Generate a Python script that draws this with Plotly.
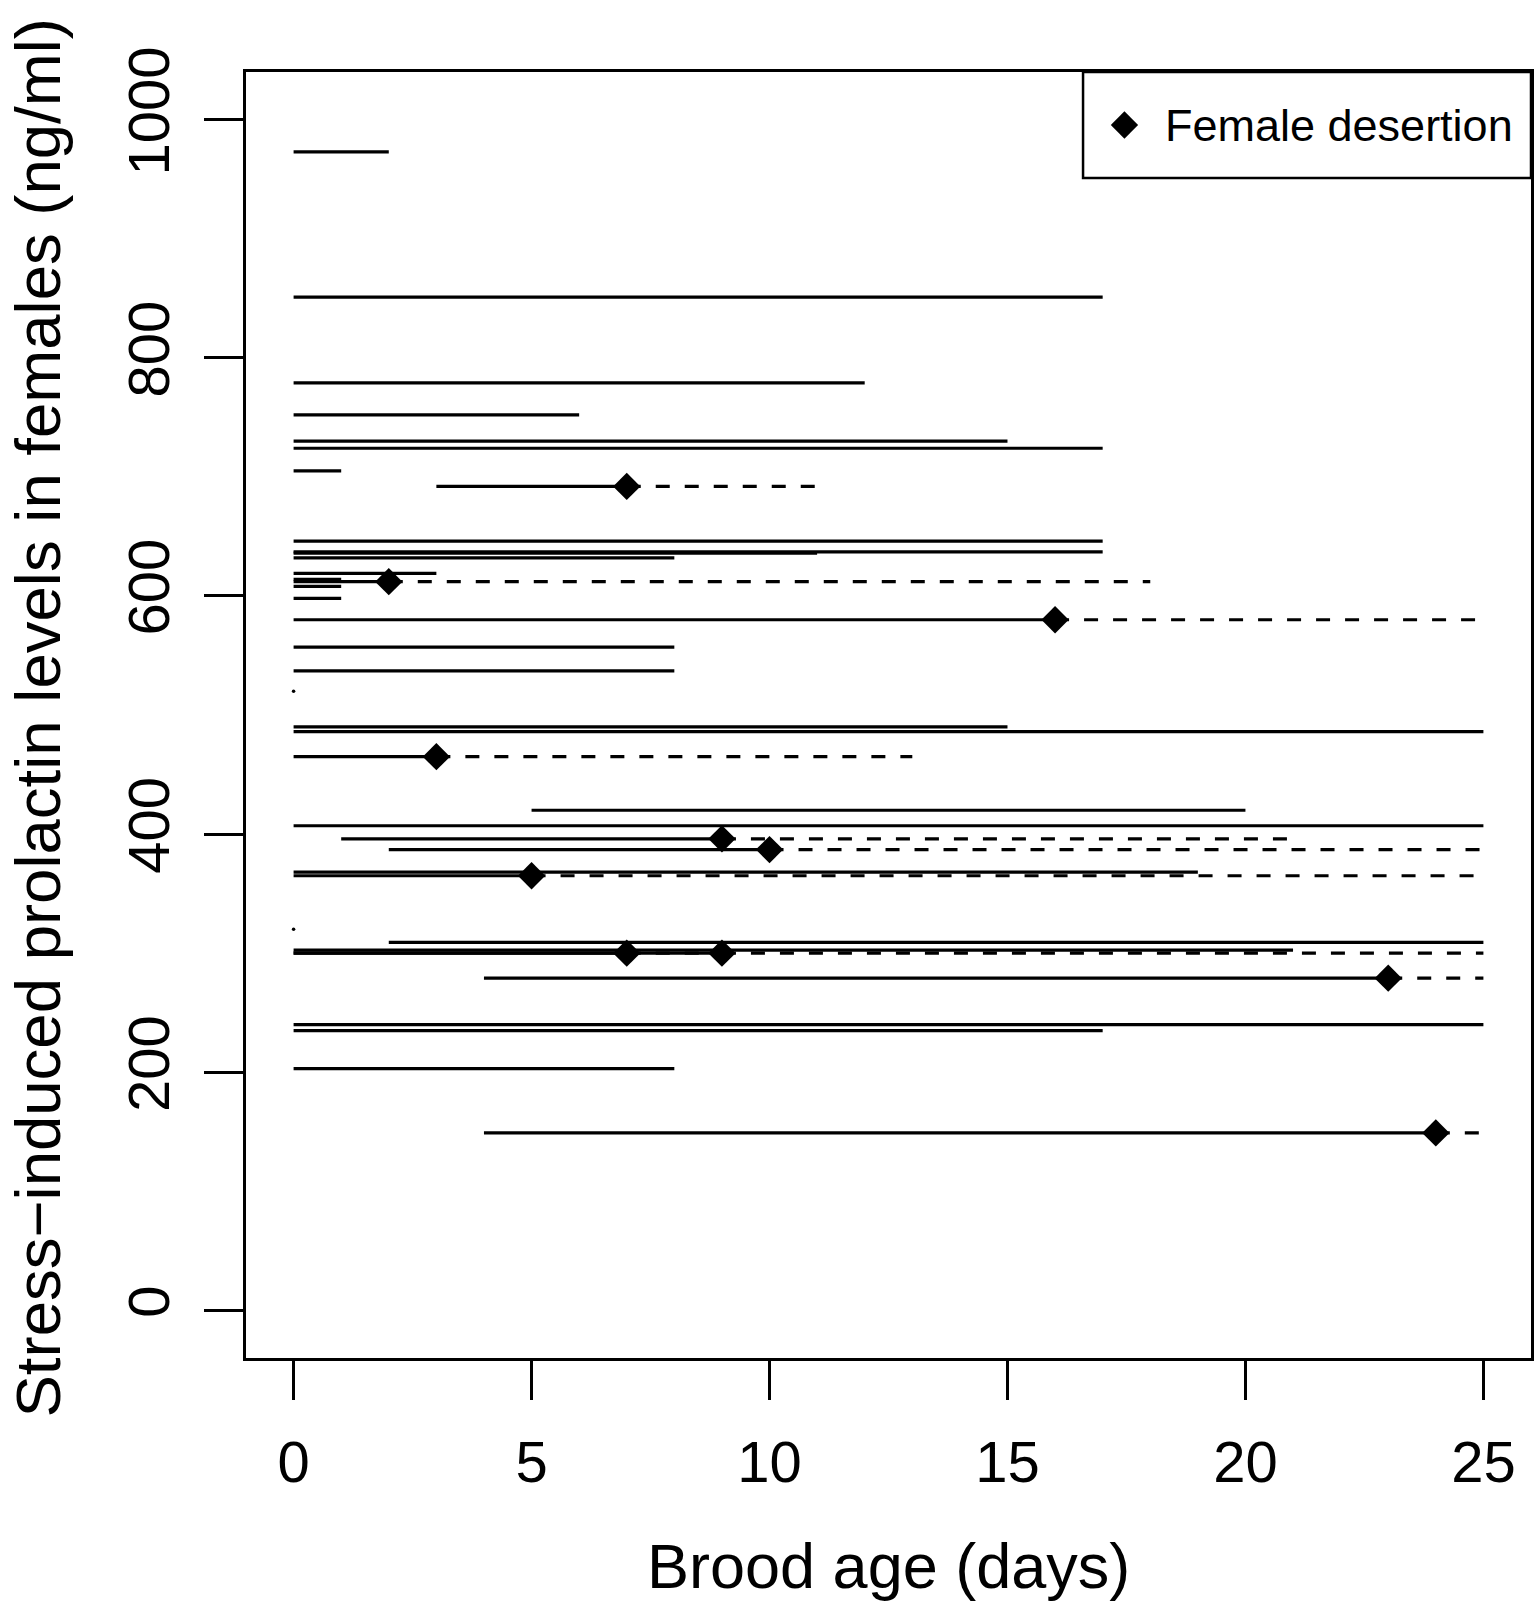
import plotly.graph_objects as go

# ---- data ----
prolactin = [973, 851, 779, 752, 730, 724, 705, 692, 646, 637, 636, 632, 619, 614,
             612, 608, 598, 580, 557, 537, 520, 490, 486, 465, 420, 407, 396, 387,
             368, 365, 320, 309, 302.5, 300, 300, 279, 240, 235, 203, 149]
start_day = [0, 0, 0, 0, 0, 0, 0, 3, 0, 0, 0, 0, 0, 0,
             0, 0, 0, 0, 0, 0, 0, 0, 0, 0, 5, 0, 1, 2,
             0, 0, 0, 2, 0, 0, 0, 4, 0, 0, 0, 4]
stop_day = [2, 17, 12, 6, 15, 17, 1, 7, 17, 17, 11, 8, 3, 1,
            2, 1, 1, 16, 8, 8, 0, 15, 25, 3, 20, 25, 9, 10,
            19, 5, 0, 25, 21, 9, 7, 23, 25, 17, 8, 24]
deserted = [False, False, False, False, False, False, False, True, False, False, False, False, False, False,
            True, False, False, True, False, False, False, False, False, True, False, False, True, True,
            False, True, False, False, False, True, True, True, False, False, False, True]
dash_end_day = [None, None, None, None, None, None, None, 11, None, None, None, None, None, None,
                18, None, None, 25, None, None, None, None, None, 13, None, None, 21, 25,
                None, 25, None, None, None, 25, 9, 25, None, None, None, 25]

x_ticks = [0, 5, 10, 15, 20, 25]
y_ticks = [0, 200, 400, 600, 800, 1000]
x_title = "Brood age (days)"
y_title = "Stress\u2212induced prolactin levels in females (ng/ml)"
legend_label = "Female desertion"

FONT = "Liberation Sans"
W, H = 1534, 1606
ML, MR, MT, MB = 246, 0, 72, 248
PW, PH = W - ML - MR, H - MT - MB

# ---- build segment traces ----
sx, sy = [], []      # solid
dx, dy = [], []      # dashed after desertion
px, py = [], []      # single-day observations (dots)
mx, my = [], []      # desertion markers
for y, s, e, d, de in zip(prolactin, start_day, stop_day, deserted, dash_end_day):
    if s == e:
        px.append(s); py.append(y)
    else:
        sx += [s, e, None]; sy += [y, y, None]
    if d:
        mx.append(e); my.append(y)
        dx += [e, de, None]; dy += [y, y, None]

LW = 3.2
fig = go.Figure()
fig.add_trace(go.Scatter(x=sx, y=sy, mode="lines", line=dict(color="black", width=LW),
                         hoverinfo="skip", showlegend=False))
fig.add_trace(go.Scatter(x=dx, y=dy, mode="lines",
                         line=dict(color="black", width=LW, dash="14px,15px"),
                         hoverinfo="skip", showlegend=False))
fig.add_trace(go.Scatter(x=px, y=py, mode="markers",
                         marker=dict(color="black", size=3.5, symbol="circle"),
                         hoverinfo="skip", showlegend=False))
fig.add_trace(go.Scatter(x=mx, y=my, mode="markers",
                         marker=dict(color="black", size=21, symbol="diamond", line=dict(width=0)),
                         hoverinfo="skip", showlegend=False))

# legend glyph on an overlay axis in plot-fraction units
leg_box_left = 1085
leg_box_bottom = 178
leg_cy = 125
leg_sym_x = 1126.5
leg_text_x = 1165
fig.add_trace(go.Scatter(x=[(leg_sym_x - ML) / PW], y=[(H - MB - leg_cy) / PH],
                         xaxis="x2", yaxis="y2", mode="markers",
                         marker=dict(color="black", size=21, symbol="diamond", line=dict(width=0)),
                         hoverinfo="skip", showlegend=False))

axis_common = dict(showline=True, linecolor="black", linewidth=3, mirror=True,
                   showgrid=False, zeroline=False, ticks="outside", ticklen=39,
                   tickwidth=2.5, tickcolor="black",
                   tickfont=dict(family=FONT, size=58, color="black"))

fig.update_layout(
    width=W, height=H,
    margin=dict(l=ML, r=MR, t=MT, b=MB),
    paper_bgcolor="white", plot_bgcolor="white",
    xaxis=dict(range=[-1.0, 26.0], tickvals=x_ticks, ticktext=[str(v) for v in x_ticks],
               ticklabelstandoff=12, **axis_common),
    yaxis=dict(range=[-40, 1040], tickvals=y_ticks, ticktext=[str(v) for v in y_ticks],
               tickangle=-90, ticklabelstandoff=12, **axis_common),
    xaxis2=dict(overlaying="x", range=[0, 1], visible=False, fixedrange=True),
    yaxis2=dict(overlaying="y", range=[0, 1], visible=False, fixedrange=True),
    showlegend=False,
    shapes=[dict(type="rect", xref="paper", yref="paper",
                 x0=(leg_box_left - ML) / PW, x1=1.0,
                 y0=(H - MB - leg_box_bottom) / PH, y1=1.0,
                 line=dict(color="black", width=2.5), fillcolor="rgba(0,0,0,0)")],
    annotations=[
        dict(text=legend_label, xref="paper", yref="paper",
             x=(leg_text_x - ML) / PW, y=(H - MB - leg_cy) / PH,
             xanchor="left", yanchor="middle", showarrow=False,
             font=dict(family=FONT, size=45, color="black")),
        dict(text=x_title, xref="paper", yref="paper", x=0.5, y=(H - MB - 1566) / PH,
             xanchor="center", yanchor="middle", showarrow=False,
             font=dict(family=FONT, size=63, color="black")),
        dict(text=y_title, xref="paper", yref="paper", x=(38 - ML) / PW, y=(H - MB - 718) / PH,
             xanchor="center", yanchor="middle", textangle=-90, showarrow=False,
             font=dict(family=FONT, size=63.5, color="black")),
    ],
)

fig.write_html("out.html", config={"displayModeBar": False},
               post_script="document.body.style.margin='0';document.body.style.overflow='hidden';")
